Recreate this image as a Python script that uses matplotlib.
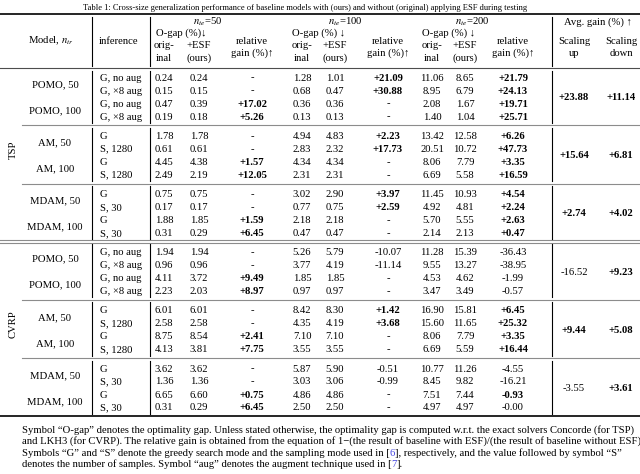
import matplotlib
matplotlib.use("Agg")
import matplotlib.pyplot as plt

plt.rcParams["font.family"] = ["Liberation Serif", "DejaVu Serif"]
plt.rcParams["mathtext.fontset"] = "stix"

# ----------------------------------------------------------------------
# DATA
# ----------------------------------------------------------------------
TITLE = ("Table 1: Cross-size generalization performance of baseline models "
         "with (ours) and without (original) applying ESF during testing")
PROBLEMS = ["TSP", "CVRP"]
MODELS = ["POMO, 50", "POMO, 100", "AM, 50", "AM, 100", "MDAM, 50", "MDAM, 100"] * 2
INFERENCE = (["G, no aug", "G, ×8 aug"] * 2 + ["G", "S, 1280"] * 2 + ["G", "S, 30"] * 2) * 2

ORIG_50 = ["0.24", "0.15", "0.47", "0.19", "1.78", "0.61", "4.45", "2.49", "0.75", "0.17", "1.88", "0.31",
           "1.94", "0.96", "4.11", "2.23", "6.01", "2.58", "8.75", "4.13", "3.62", "1.36", "6.65", "0.31"]
ESF_50 = ["0.24", "0.15", "0.39", "0.18", "1.78", "0.61", "4.38", "2.19", "0.75", "0.17", "1.85", "0.29",
          "1.94", "0.96", "3.72", "2.03", "6.01", "2.58", "8.54", "3.81", "3.62", "1.36", "6.60", "0.29"]
GAIN_50 = ["-", "-", "+17.02", "+5.26", "-", "-", "+1.57", "+12.05", "-", "-", "+1.59", "+6.45",
           "-", "-", "+9.49", "+8.97", "-", "-", "+2.41", "+7.75", "-", "-", "+0.75", "+6.45"]
ORIG_100 = ["1.28", "0.68", "0.36", "0.13", "4.94", "2.83", "4.34", "2.31", "3.02", "0.77", "2.18", "0.47",
            "5.26", "3.77", "1.85", "0.97", "8.42", "4.35", "7.10", "3.55", "5.87", "3.03", "4.86", "2.50"]
ESF_100 = ["1.01", "0.47", "0.36", "0.13", "4.83", "2.32", "4.34", "2.31", "2.90", "0.75", "2.18", "0.47",
           "5.79", "4.19", "1.85", "0.97", "8.30", "4.19", "7.10", "3.55", "5.90", "3.06", "4.86", "2.50"]
GAIN_100 = ["+21.09", "+30.88", "-", "-", "+2.23", "+17.73", "-", "-", "+3.97", "+2.59", "-", "-",
            "-10.07", "-11.14", "-", "-", "+1.42", "+3.68", "-", "-", "-0.51", "-0.99", "-", "-"]
ORIG_200 = ["11.06", "8.95", "2.08", "1.40", "13.42", "20.51", "8.06", "6.69", "11.45", "4.92", "5.70", "2.14",
            "11.28", "9.55", "4.53", "3.47", "16.90", "15.60", "8.06", "6.69", "10.77", "8.45", "7.51", "4.97"]
ESF_200 = ["8.65", "6.79", "1.67", "1.04", "12.58", "10.72", "7.79", "5.58", "10.93", "4.81", "5.55", "2.13",
           "15.39", "13.27", "4.62", "3.49", "15.81", "11.65", "7.79", "5.59", "11.26", "9.82", "7.44", "4.97"]
GAIN_200 = ["+21.79", "+24.13", "+19.71", "+25.71", "+6.26", "+47.73", "+3.35", "+16.59",
            "+4.54", "+2.24", "+2.63", "+0.47",
            "-36.43", "-38.95", "-1.99", "-0.57", "+6.45", "+25.32", "+3.35", "+16.44",
            "-4.55", "-16.21", "-0.93", "-0.00"]
AVG_UP = ["+23.88", "+15.64", "+2.74", "-16.52", "+9.44", "-3.55"]
AVG_DOWN = ["+11.14", "+6.81", "+4.02", "+9.23", "+5.08", "+3.61"]
BOLD_EXTRA = {"-0.93"}
SIZES = ["50", "100", "200"]

NOTES = [
    [("Symbol “O-gap” denotes the optimality gap. Unless stated otherwise, the optimality gap "
      "is computed w.r.t. the exact solvers Concorde (for TSP)", "black")],
    [("and LKH3 (for CVRP). The relative gain is obtained from the equation of 1−(the result of "
      "baseline with ESF)/(the result of baseline without ESF).", "black")],
    [("Symbols “G” and “S” denote the greedy search mode and the sampling mode used in [", "black"),
     ("6", "#4646e0"),
     ("], respectively, and the value followed by symbol “S”", "black")],
    [("denotes the number of samples. Symbol “aug” denotes the augment technique used in [", "black"),
     ("7", "#4646e0"), ("].", "black")],
]

# ----------------------------------------------------------------------
# LAYOUT
# ----------------------------------------------------------------------
W, H, DPI = 640, 474, 100
FS = 7.7
X_MODEL, X_INF = 55, 100
X_ORIG = [164, 302, 432]
X_ESF = [199, 335, 465]
X_GAIN = [252, 388, 513]
X_UP, X_DOWN = 574, 621
VLINES = [92, 150, 552]
Y0, ROW, GROUP = 78, 13, 58.2
RULE_GAP = 8.3

fig = plt.figure(figsize=(W / DPI, H / DPI), dpi=DPI, facecolor="white")
ax = fig.add_axes([0, 0, 1, 1])
ax.set_xlim(0, W)
ax.set_ylim(H, 0)
ax.axis("off")


def txt(x, y, s, ha="center", bold=False, size=FS, **kw):
    return ax.text(x, y, s, ha=ha, va="center", fontsize=size,
                   fontweight="bold" if bold else "normal", **kw)


def is_bold(s):
    return s.startswith("+") or s in BOLD_EXTRA


def row_y(i):
    return Y0 + (i // 4) * GROUP + (i % 4) * ROW


# title
txt(305, 8, TITLE, size=6.1)

# header
HTOP, HBOT = 14, 68
txt(51, 41, "Model, $n_{tr}$")
txt(119, 41, "inference")
for k, n in enumerate(SIZES):
    mid = (X_ORIG[k] + X_GAIN[k]) / 2
    txt(mid, 22, "$n_{te}$=" + n)
    arrow = "O-gap (%)↓" if k == 0 else "O-gap (%) ↓"
    txt((X_ORIG[k] + X_ESF[k]) / 2, 33, arrow)
    txt(X_ORIG[k], 45.5, "orig-")
    txt(X_ORIG[k], 58, "inal")
    txt(X_ESF[k], 45.5, "+ESF")
    txt(X_ESF[k], 58, "(ours)")
    txt(X_GAIN[k], 41, "relative")
    txt(X_GAIN[k], 53, "gain (%)↑")
txt((X_UP + X_DOWN) / 2, 22, "Avg. gain (%) ↑")
txt(X_UP, 41, "Scaling")
txt(X_UP, 53, "up")
txt(X_DOWN, 41, "Scaling")
txt(X_DOWN, 53, "down")

# body
for i in range(len(INFERENCE)):
    y = row_y(i)
    txt(X_INF, y, INFERENCE[i], ha="left")
    cols = [(ORIG_50, ESF_50, GAIN_50), (ORIG_100, ESF_100, GAIN_100),
            (ORIG_200, ESF_200, GAIN_200)]
    for k, (o, e, g) in enumerate(cols):
        txt(X_ORIG[k], y, o[i])
        txt(X_ESF[k], y, e[i])
        txt(X_GAIN[k], y, g[i], bold=is_bold(g[i]))
    if i % 2 == 0:
        txt(X_MODEL, y + ROW / 2, MODELS[i // 2])

for g in range(len(AVG_UP)):
    yc = row_y(g * 4) + 1.5 * ROW
    txt(X_UP, yc, AVG_UP[g], bold=is_bold(AVG_UP[g]))
    txt(X_DOWN, yc, AVG_DOWN[g], bold=is_bold(AVG_DOWN[g]))

for p, name in enumerate(PROBLEMS):
    yc = row_y(p * 12) + 1.5 * ROW + GROUP - 6
    txt(13, yc, name, rotation=90)

# rules
ax.plot([0, W], [HTOP, HTOP], color="black", lw=1.2)
ax.plot([0, W], [HBOT, HBOT], color="0.3", lw=0.8)
bounds = [HTOP, HBOT]
n_groups = len(AVG_UP)
for g in range(n_groups):
    yr = row_y(g * 4 + 3) + RULE_GAP
    if g == n_groups - 1:
        ax.plot([0, W], [yr, yr], color="black", lw=1.2)
    elif g == 2:
        ax.plot([0, W], [yr - 1.5, yr - 1.5], color="0.55", lw=0.8)
        ax.plot([0, W], [yr + 1.5, yr + 1.5], color="0.55", lw=0.8)
    else:
        ax.plot([22, W], [yr, yr], color="0.55", lw=0.8)
    bounds.append(yr)

# vertical lines, broken at the rules
for a, b in zip(bounds[:-1], bounds[1:]):
    for xv in VLINES:
        ax.plot([xv, xv], [a + 2.5, b - 2.5], color="black", lw=0.8)

# footnotes (the reference crops them at the right edge)
renderer = fig.canvas.get_renderer()
for j, runs in enumerate(NOTES):
    x = 22
    y = 430 + j * 11.5
    for s, c in runs:
        t = txt(x, y, s, ha="left", color=c)
        x += t.get_window_extent(renderer=renderer).width

fig.savefig("out.png", dpi=DPI, facecolor="white")
